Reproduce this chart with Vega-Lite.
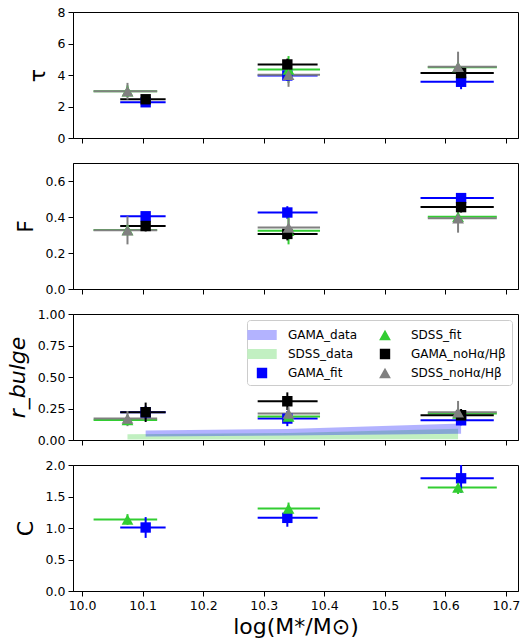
{
  "$schema": "https://vega.github.io/schema/vega-lite/v6.json",
  "padding": {"left": 5, "top": 5, "right": 5, "bottom": 2},
  "bounds": "flush",
  "spacing": 25,
  "data": {"values": [
    {"panel": "tau", "series": "GAMA_fit", "x": 10.105, "xlo": 10.063, "xhi": 10.138, "y": 2.27, "ylo": 2.05, "yhi": 2.49},
    {"panel": "tau", "series": "GAMA_fit", "x": 10.339, "xlo": 10.290, "xhi": 10.389, "y": 3.97, "ylo": 3.62, "yhi": 4.32},
    {"panel": "tau", "series": "GAMA_fit", "x": 10.626, "xlo": 10.559, "xhi": 10.680, "y": 3.57, "ylo": 3.10, "yhi": 4.04},
    {"panel": "tau", "series": "SDSS_fit", "x": 10.075, "xlo": 10.019, "xhi": 10.124, "y": 2.97, "ylo": 2.60, "yhi": 3.34},
    {"panel": "tau", "series": "SDSS_fit", "x": 10.341, "xlo": 10.290, "xhi": 10.393, "y": 4.35, "ylo": 3.50, "yhi": 5.20},
    {"panel": "tau", "series": "SDSS_fit", "x": 10.621, "xlo": 10.571, "xhi": 10.685, "y": 4.50, "ylo": 4.25, "yhi": 4.75},
    {"panel": "tau", "series": "GAMA_noHα/Hβ", "x": 10.105, "xlo": 10.063, "xhi": 10.138, "y": 2.46, "ylo": 2.22, "yhi": 2.70},
    {"panel": "tau", "series": "GAMA_noHα/Hβ", "x": 10.339, "xlo": 10.290, "xhi": 10.389, "y": 4.67, "ylo": 4.30, "yhi": 5.04},
    {"panel": "tau", "series": "GAMA_noHα/Hβ", "x": 10.626, "xlo": 10.559, "xhi": 10.680, "y": 4.12, "ylo": 3.75, "yhi": 4.49},
    {"panel": "tau", "series": "SDSS_noHα/Hβ", "x": 10.075, "xlo": 10.019, "xhi": 10.124, "y": 2.97, "ylo": 2.44, "yhi": 3.50},
    {"panel": "tau", "series": "SDSS_noHα/Hβ", "x": 10.341, "xlo": 10.290, "xhi": 10.393, "y": 4.01, "ylo": 3.25, "yhi": 4.77},
    {"panel": "tau", "series": "SDSS_noHα/Hβ", "x": 10.621, "xlo": 10.571, "xhi": 10.685, "y": 4.52, "ylo": 3.56, "yhi": 5.48},

    {"panel": "F", "series": "GAMA_fit", "x": 10.105, "xlo": 10.063, "xhi": 10.138, "y": 0.404, "ylo": 0.384, "yhi": 0.424},
    {"panel": "F", "series": "GAMA_fit", "x": 10.339, "xlo": 10.290, "xhi": 10.389, "y": 0.425, "ylo": 0.390, "yhi": 0.460},
    {"panel": "F", "series": "GAMA_fit", "x": 10.626, "xlo": 10.559, "xhi": 10.680, "y": 0.505, "ylo": 0.485, "yhi": 0.525},
    {"panel": "F", "series": "SDSS_fit", "x": 10.075, "xlo": 10.019, "xhi": 10.124, "y": 0.328, "ylo": 0.300, "yhi": 0.356},
    {"panel": "F", "series": "SDSS_fit", "x": 10.341, "xlo": 10.290, "xhi": 10.393, "y": 0.324, "ylo": 0.248, "yhi": 0.400},
    {"panel": "F", "series": "SDSS_fit", "x": 10.621, "xlo": 10.571, "xhi": 10.685, "y": 0.401, "ylo": 0.370, "yhi": 0.432},
    {"panel": "F", "series": "GAMA_noHα/Hβ", "x": 10.105, "xlo": 10.063, "xhi": 10.138, "y": 0.350, "ylo": 0.320, "yhi": 0.380},
    {"panel": "F", "series": "GAMA_noHα/Hβ", "x": 10.339, "xlo": 10.290, "xhi": 10.389, "y": 0.306, "ylo": 0.270, "yhi": 0.342},
    {"panel": "F", "series": "GAMA_noHα/Hβ", "x": 10.626, "xlo": 10.559, "xhi": 10.680, "y": 0.455, "ylo": 0.425, "yhi": 0.485},
    {"panel": "F", "series": "SDSS_noHα/Hβ", "x": 10.075, "xlo": 10.019, "xhi": 10.124, "y": 0.326, "ylo": 0.248, "yhi": 0.404},
    {"panel": "F", "series": "SDSS_noHα/Hβ", "x": 10.341, "xlo": 10.290, "xhi": 10.393, "y": 0.341, "ylo": 0.290, "yhi": 0.392},
    {"panel": "F", "series": "SDSS_noHα/Hβ", "x": 10.621, "xlo": 10.571, "xhi": 10.685, "y": 0.393, "ylo": 0.313, "yhi": 0.473},

    {"panel": "rb", "series": "GAMA_fit", "x": 10.105, "xlo": 10.063, "xhi": 10.138, "y": 0.220, "ylo": 0.170, "yhi": 0.270},
    {"panel": "rb", "series": "GAMA_fit", "x": 10.339, "xlo": 10.290, "xhi": 10.389, "y": 0.170, "ylo": 0.110, "yhi": 0.230},
    {"panel": "rb", "series": "GAMA_fit", "x": 10.626, "xlo": 10.559, "xhi": 10.680, "y": 0.157, "ylo": 0.117, "yhi": 0.197},
    {"panel": "rb", "series": "SDSS_fit", "x": 10.075, "xlo": 10.019, "xhi": 10.124, "y": 0.159, "ylo": 0.119, "yhi": 0.199},
    {"panel": "rb", "series": "SDSS_fit", "x": 10.341, "xlo": 10.290, "xhi": 10.393, "y": 0.186, "ylo": 0.146, "yhi": 0.226},
    {"panel": "rb", "series": "SDSS_fit", "x": 10.621, "xlo": 10.571, "xhi": 10.685, "y": 0.210, "ylo": 0.170, "yhi": 0.250},
    {"panel": "rb", "series": "GAMA_noHα/Hβ", "x": 10.105, "xlo": 10.063, "xhi": 10.138, "y": 0.220, "ylo": 0.143, "yhi": 0.297},
    {"panel": "rb", "series": "GAMA_noHα/Hβ", "x": 10.339, "xlo": 10.290, "xhi": 10.389, "y": 0.308, "ylo": 0.238, "yhi": 0.378},
    {"panel": "rb", "series": "GAMA_noHα/Hβ", "x": 10.626, "xlo": 10.559, "xhi": 10.680, "y": 0.196, "ylo": 0.146, "yhi": 0.246},
    {"panel": "rb", "series": "SDSS_noHα/Hβ", "x": 10.075, "xlo": 10.019, "xhi": 10.124, "y": 0.170, "ylo": 0.110, "yhi": 0.230},
    {"panel": "rb", "series": "SDSS_noHα/Hβ", "x": 10.341, "xlo": 10.290, "xhi": 10.393, "y": 0.210, "ylo": 0.160, "yhi": 0.260},
    {"panel": "rb", "series": "SDSS_noHα/Hβ", "x": 10.621, "xlo": 10.571, "xhi": 10.685, "y": 0.220, "ylo": 0.130, "yhi": 0.310},

    {"panel": "C", "series": "GAMA_fit", "x": 10.105, "xlo": 10.063, "xhi": 10.138, "y": 1.008, "ylo": 0.843, "yhi": 1.173},
    {"panel": "C", "series": "GAMA_fit", "x": 10.339, "xlo": 10.290, "xhi": 10.389, "y": 1.161, "ylo": 1.020, "yhi": 1.300},
    {"panel": "C", "series": "GAMA_fit", "x": 10.626, "xlo": 10.559, "xhi": 10.680, "y": 1.789, "ylo": 1.560, "yhi": 2.020},
    {"panel": "C", "series": "SDSS_fit", "x": 10.075, "xlo": 10.019, "xhi": 10.124, "y": 1.135, "ylo": 1.050, "yhi": 1.220},
    {"panel": "C", "series": "SDSS_fit", "x": 10.341, "xlo": 10.290, "xhi": 10.393, "y": 1.309, "ylo": 1.214, "yhi": 1.404},
    {"panel": "C", "series": "SDSS_fit", "x": 10.621, "xlo": 10.571, "xhi": 10.685, "y": 1.641, "ylo": 1.540, "yhi": 1.740},

    {"panel": "band", "series": "GAMA_data", "x": 10.105, "lo": 0.028, "hi": 0.075},
    {"panel": "band", "series": "GAMA_data", "x": 10.339, "lo": 0.035, "hi": 0.088},
    {"panel": "band", "series": "GAMA_data", "x": 10.626, "lo": 0.050, "hi": 0.130},
    {"panel": "band", "series": "SDSS_data", "x": 10.075, "lo": 0.003, "hi": 0.045},
    {"panel": "band", "series": "SDSS_data", "x": 10.341, "lo": 0.003, "hi": 0.055},
    {"panel": "band", "series": "SDSS_data", "x": 10.621, "lo": 0.005, "hi": 0.090}
  ]},
  "config": {
    "font": "DejaVu Sans",
    "view": {"stroke": "black", "strokeWidth": 1},
    "axis": {"labelFont": "DejaVu Sans", "labelFontSize": 12.5, "labelColor": "black", "labelOverlap": false, "tickCount": 20, "tickColor": "black", "domainColor": "black", "tickSize": 5, "tickWidth": 1, "grid": false, "labelPadding": 3, "titleFont": "DejaVu Sans", "titleFontWeight": "normal", "titleColor": "black"},
    "legend": {"labelFont": "DejaVu Sans", "labelFontSize": 12, "labelColor": "black", "symbolSize": 300, "symbolStrokeWidth": 0, "symbolOpacity": 1, "labelOffset": 17, "padding": 6, "rowPadding": 4, "columnPadding": 12, "fillColor": "white", "strokeColor": "#cccccc", "cornerRadius": 3, "offset": 6}
  },
  "resolve": {"scale": {"color": "independent", "shape": "independent", "stroke": "independent"}, "legend": {"color": "independent", "shape": "independent", "stroke": "independent"}},
  "vconcat": [
    {
      "width": 445, "height": 126,
      "transform": [{"filter": "datum.panel === 'tau'"}],
      "layer": [
        {"mark": {"type": "rule", "strokeWidth": 2, "clip": true},
         "encoding": {
           "x": {"field": "xlo", "type": "quantitative", "scale": {"domain": [9.985, 10.72], "nice": false, "zero": false}, "axis": {"values": [10.0, 10.1, 10.2, 10.3, 10.4, 10.5, 10.6, 10.7], "labels": false, "title": null}},
           "x2": {"field": "xhi"},
           "y": {"field": "y", "type": "quantitative", "scale": {"domain": [0, 8], "nice": false, "zero": false}, "axis": {"values": [0, 2, 4, 6, 8], "format": "d", "title": "τ", "titleFontSize": 22, "titlePadding": 8}},
           "stroke": {"field": "series", "type": "nominal", "legend": null, "scale": {"domain": ["GAMA_fit", "SDSS_fit", "GAMA_noHα/Hβ", "SDSS_noHα/Hβ"], "range": ["#0000ff", "#32cd32", "#000000", "#808080"]}}
         }},
        {"mark": {"type": "rule", "strokeWidth": 2, "clip": true},
         "encoding": {
           "x": {"field": "x", "type": "quantitative"},
           "y": {"field": "ylo", "type": "quantitative"},
           "y2": {"field": "yhi"},
           "stroke": {"field": "series", "type": "nominal", "legend": null}
         }},
        {"mark": {"type": "point", "filled": true, "opacity": 1, "size": 300, "strokeWidth": 0},
         "encoding": {
           "x": {"field": "x", "type": "quantitative"},
           "y": {"field": "y", "type": "quantitative"},
           "color": {"field": "series", "type": "nominal", "legend": null, "scale": {"domain": ["GAMA_data", "SDSS_data", "GAMA_fit", "SDSS_fit", "GAMA_noHα/Hβ", "SDSS_noHα/Hβ"], "range": ["#b3b3ff", "#c2f0c2", "#0000ff", "#32cd32", "#000000", "#808080"]}},
           "shape": {"field": "series", "type": "nominal", "legend": null, "scale": {"domain": ["GAMA_data", "SDSS_data", "GAMA_fit", "SDSS_fit", "GAMA_noHα/Hβ", "SDSS_noHα/Hβ"], "range": ["M-1.7,-0.58H1.7V0.58H-1.7Z", "M-1.7,-0.58H1.7V0.58H-1.7Z", "M-0.6,-0.6H0.6V0.6H-0.6Z", "M0,-0.62L0.68,0.6L-0.68,0.6Z", "M-0.6,-0.6H0.6V0.6H-0.6Z", "M0,-0.62L0.68,0.6L-0.68,0.6Z"]}}
         }}
      ]
    },
    {
      "width": 445, "height": 126,
      "transform": [{"filter": "datum.panel === 'F'"}],
      "layer": [
        {"mark": {"type": "rule", "strokeWidth": 2, "clip": true},
         "encoding": {
           "x": {"field": "xlo", "type": "quantitative", "scale": {"domain": [9.985, 10.72], "nice": false, "zero": false}, "axis": {"values": [10.0, 10.1, 10.2, 10.3, 10.4, 10.5, 10.6, 10.7], "labels": false, "title": null}},
           "x2": {"field": "xhi"},
           "y": {"field": "y", "type": "quantitative", "scale": {"domain": [0, 0.7], "nice": false, "zero": false}, "axis": {"values": [0, 0.2, 0.4, 0.6], "format": ".1f", "title": "F", "titleFontSize": 22, "titlePadding": 8}},
           "stroke": {"field": "series", "type": "nominal", "legend": null, "scale": {"domain": ["GAMA_fit", "SDSS_fit", "GAMA_noHα/Hβ", "SDSS_noHα/Hβ"], "range": ["#0000ff", "#32cd32", "#000000", "#808080"]}}
         }},
        {"mark": {"type": "rule", "strokeWidth": 2, "clip": true},
         "encoding": {
           "x": {"field": "x", "type": "quantitative"},
           "y": {"field": "ylo", "type": "quantitative"},
           "y2": {"field": "yhi"},
           "stroke": {"field": "series", "type": "nominal", "legend": null}
         }},
        {"mark": {"type": "point", "filled": true, "opacity": 1, "size": 300, "strokeWidth": 0},
         "encoding": {
           "x": {"field": "x", "type": "quantitative"},
           "y": {"field": "y", "type": "quantitative"},
           "color": {"field": "series", "type": "nominal", "legend": null, "scale": {"domain": ["GAMA_data", "SDSS_data", "GAMA_fit", "SDSS_fit", "GAMA_noHα/Hβ", "SDSS_noHα/Hβ"], "range": ["#b3b3ff", "#c2f0c2", "#0000ff", "#32cd32", "#000000", "#808080"]}},
           "shape": {"field": "series", "type": "nominal", "legend": null, "scale": {"domain": ["GAMA_data", "SDSS_data", "GAMA_fit", "SDSS_fit", "GAMA_noHα/Hβ", "SDSS_noHα/Hβ"], "range": ["M-1.7,-0.58H1.7V0.58H-1.7Z", "M-1.7,-0.58H1.7V0.58H-1.7Z", "M-0.6,-0.6H0.6V0.6H-0.6Z", "M0,-0.62L0.68,0.6L-0.68,0.6Z", "M-0.6,-0.6H0.6V0.6H-0.6Z", "M0,-0.62L0.68,0.6L-0.68,0.6Z"]}}
         }}
      ]
    },
    {
      "width": 445, "height": 126,
      "layer": [
        {"transform": [{"filter": "datum.panel === 'band' && datum.series === 'SDSS_data'"}],
         "mark": {"type": "area", "color": "#32cd32", "opacity": 0.3, "clip": true},
         "encoding": {
           "x": {"field": "x", "type": "quantitative", "scale": {"domain": [9.985, 10.72], "nice": false, "zero": false}, "axis": {"values": [10.0, 10.1, 10.2, 10.3, 10.4, 10.5, 10.6, 10.7], "labels": false, "title": null}},
           "y": {"field": "lo", "type": "quantitative", "scale": {"domain": [0, 1], "nice": false, "zero": false}, "axis": {"values": [0, 0.25, 0.5, 0.75, 1], "format": ".2f", "title": "r_bulge", "titleFontSize": 22, "titleFontStyle": "italic", "titlePadding": 8}},
           "y2": {"field": "hi"}
         }},
        {"transform": [{"filter": "datum.panel === 'band' && datum.series === 'GAMA_data'"}],
         "mark": {"type": "area", "color": "#0000ff", "opacity": 0.3, "clip": true},
         "encoding": {
           "x": {"field": "x", "type": "quantitative"},
           "y": {"field": "lo", "type": "quantitative"},
           "y2": {"field": "hi"}
         }},
        {"transform": [{"filter": "datum.panel === 'rb'"}],
         "mark": {"type": "rule", "strokeWidth": 2, "clip": true},
         "encoding": {
           "x": {"field": "xlo", "type": "quantitative"},
           "x2": {"field": "xhi"},
           "y": {"field": "y", "type": "quantitative"},
           "stroke": {"field": "series", "type": "nominal", "legend": null, "scale": {"domain": ["GAMA_fit", "SDSS_fit", "GAMA_noHα/Hβ", "SDSS_noHα/Hβ"], "range": ["#0000ff", "#32cd32", "#000000", "#808080"]}}
         }},
        {"transform": [{"filter": "datum.panel === 'rb'"}],
         "mark": {"type": "rule", "strokeWidth": 2, "clip": true},
         "encoding": {
           "x": {"field": "x", "type": "quantitative"},
           "y": {"field": "ylo", "type": "quantitative"},
           "y2": {"field": "yhi"},
           "stroke": {"field": "series", "type": "nominal", "legend": null}
         }},
        {"transform": [{"filter": "datum.panel === 'rb'"}],
         "mark": {"type": "point", "filled": true, "opacity": 1, "size": 300, "strokeWidth": 0},
         "encoding": {
           "x": {"field": "x", "type": "quantitative"},
           "y": {"field": "y", "type": "quantitative"},
           "color": {"field": "series", "type": "nominal", "legend": {"orient": "top-right", "columns": 2, "title": null, "labelExpr": "datum.label === 'SDSS_data' ? datum.label + ' ' : datum.label === 'GAMA_fit' ? datum.label + '    ' : datum.label === 'SDSS_fit' ? datum.label + '            ' : datum.label === 'SDSS_noHα/Hβ' ? datum.label + ' ' : datum.label"}, "scale": {"domain": ["GAMA_data", "SDSS_data", "GAMA_fit", "SDSS_fit", "GAMA_noHα/Hβ", "SDSS_noHα/Hβ"], "range": ["#b3b3ff", "#c2f0c2", "#0000ff", "#32cd32", "#000000", "#808080"]}},
           "shape": {"field": "series", "type": "nominal", "legend": {"orient": "top-right", "columns": 2, "title": null, "labelExpr": "datum.label === 'SDSS_data' ? datum.label + ' ' : datum.label === 'GAMA_fit' ? datum.label + '    ' : datum.label === 'SDSS_fit' ? datum.label + '            ' : datum.label === 'SDSS_noHα/Hβ' ? datum.label + ' ' : datum.label"}, "scale": {"domain": ["GAMA_data", "SDSS_data", "GAMA_fit", "SDSS_fit", "GAMA_noHα/Hβ", "SDSS_noHα/Hβ"], "range": ["M-1.7,-0.58H1.7V0.58H-1.7Z", "M-1.7,-0.58H1.7V0.58H-1.7Z", "M-1.7,0L-1.7,0.001ZM1.7,0L1.7,0.001ZM-0.6,-0.6H0.6V0.6H-0.6Z", "M-1.7,0L-1.7,0.001ZM1.7,0L1.7,0.001ZM0,-0.62L0.68,0.6L-0.68,0.6Z", "M-1.7,0L-1.7,0.001ZM1.7,0L1.7,0.001ZM-0.6,-0.6H0.6V0.6H-0.6Z", "M-1.7,0L-1.7,0.001ZM1.7,0L1.7,0.001ZM0,-0.62L0.68,0.6L-0.68,0.6Z"]}}
         }}
      ]
    },
    {
      "width": 445, "height": 126,
      "transform": [{"filter": "datum.panel === 'C'"}],
      "layer": [
        {"mark": {"type": "rule", "strokeWidth": 2, "clip": true},
         "encoding": {
           "x": {"field": "xlo", "type": "quantitative", "scale": {"domain": [9.985, 10.72], "nice": false, "zero": false}, "axis": {"values": [10.0, 10.1, 10.2, 10.3, 10.4, 10.5, 10.6, 10.7], "format": ".1f", "title": "log(M*/M⊙)", "titleFontSize": 22, "titlePadding": 5}},
           "x2": {"field": "xhi"},
           "y": {"field": "y", "type": "quantitative", "scale": {"domain": [0, 2], "nice": false, "zero": false}, "axis": {"values": [0, 0.5, 1, 1.5, 2], "format": ".1f", "title": "C", "titleFontSize": 22, "titlePadding": 8}},
           "stroke": {"field": "series", "type": "nominal", "legend": null, "scale": {"domain": ["GAMA_fit", "SDSS_fit", "GAMA_noHα/Hβ", "SDSS_noHα/Hβ"], "range": ["#0000ff", "#32cd32", "#000000", "#808080"]}}
         }},
        {"mark": {"type": "rule", "strokeWidth": 2, "clip": true},
         "encoding": {
           "x": {"field": "x", "type": "quantitative"},
           "y": {"field": "ylo", "type": "quantitative"},
           "y2": {"field": "yhi"},
           "stroke": {"field": "series", "type": "nominal", "legend": null}
         }},
        {"mark": {"type": "point", "filled": true, "opacity": 1, "size": 300, "strokeWidth": 0},
         "encoding": {
           "x": {"field": "x", "type": "quantitative"},
           "y": {"field": "y", "type": "quantitative"},
           "color": {"field": "series", "type": "nominal", "legend": null, "scale": {"domain": ["GAMA_data", "SDSS_data", "GAMA_fit", "SDSS_fit", "GAMA_noHα/Hβ", "SDSS_noHα/Hβ"], "range": ["#b3b3ff", "#c2f0c2", "#0000ff", "#32cd32", "#000000", "#808080"]}},
           "shape": {"field": "series", "type": "nominal", "legend": null, "scale": {"domain": ["GAMA_data", "SDSS_data", "GAMA_fit", "SDSS_fit", "GAMA_noHα/Hβ", "SDSS_noHα/Hβ"], "range": ["M-1.7,-0.58H1.7V0.58H-1.7Z", "M-1.7,-0.58H1.7V0.58H-1.7Z", "M-0.6,-0.6H0.6V0.6H-0.6Z", "M0,-0.62L0.68,0.6L-0.68,0.6Z", "M-0.6,-0.6H0.6V0.6H-0.6Z", "M0,-0.62L0.68,0.6L-0.68,0.6Z"]}}
         }}
      ]
    }
  ]
}
